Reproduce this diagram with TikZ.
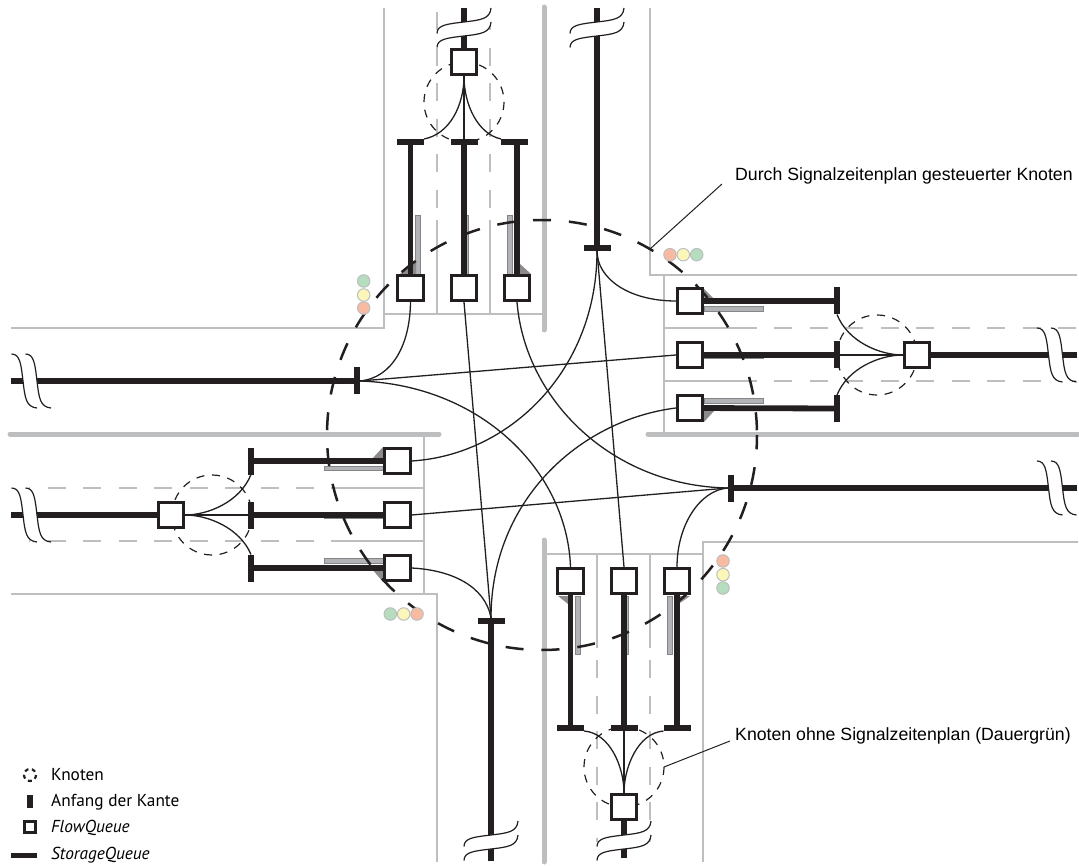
\documentclass[tikz,border=0pt]{standalone}
\usepackage{fontspec}
\setmainfont{Liberation Sans}
\newfontfamily\legendfont{PT Sans}
\usetikzlibrary{arrows.meta,positioning,calc}
\definecolor{roadgray}{HTML}{BCBEC0}
\definecolor{pocketgray}{HTML}{B1B3B6}
\definecolor{wedgegray}{HTML}{8C8A8A}
\definecolor{ink}{HTML}{231F20}
\definecolor{sigred}{HTML}{F8BBA2}
\definecolor{sigyellow}{HTML}{FCF7B8}
\definecolor{siggreen}{HTML}{B6DDBE}

\begin{document}
\begin{tikzpicture}[
  x=1pt, y=-1pt,
  road/.style={draw=roadgray, line width=2.2pt},
  laneline/.style={draw=roadgray, line width=1.7pt},
  median/.style={draw=roadgray, line width=5pt, line cap=round},
  lane/.style={draw=roadgray, line width=1.7pt, dash pattern=on 18pt off 17.5pt},
  pocket/.style={fill=pocketgray, draw=roadgray!70!black, line width=0.5pt},
  wedge/.style={fill=wedgegray},
  bignode/.style={draw=ink, line width=2.5pt, dash pattern=on 18pt off 18pt, dash phase=9pt},
  smallnode/.style={draw=ink, line width=1.2pt, dash pattern=on 8pt off 7.7pt},
  fq/.style={draw=ink, line width=2.7pt, fill=white, minimum size=25.5pt, inner sep=0pt},
  barh/.style={fill=ink, minimum width=27pt, minimum height=6pt, inner sep=0pt, outer sep=0pt},
  barv/.style={fill=ink, minimum width=6pt, minimum height=27pt, inner sep=0pt, outer sep=0pt},
  sq/.style={draw=ink, line width=5.8pt},
  link/.style={draw=ink, line width=1.3pt},
  leader/.style={draw=ink, line width=1pt},
  signal/.style={circle, draw=roadgray, line width=1pt, minimum size=12.5pt, inner sep=0pt},
  lbl/.style={anchor=west, inner sep=0pt, font=\fontsize{17.7}{20}\selectfont},
  leg/.style={anchor=west, inner sep=0pt, font=\legendfont\fontsize{17.3}{20}\selectfont},
  breakmark/.pic={
    \fill[white] (-27,5.5) .. controls (-27,-3) and (-17,-4) .. (0,-6) .. controls (17,-8) and (26,-9) .. (27,-20)
      -- (27,-6) .. controls (26,5) and (17,6) .. (0,8) .. controls (-17,10) and (-27,11) .. (-27,19.5) -- cycle;
    \draw[ink, line width=1.2pt] (-27,5.5) .. controls (-27,-3) and (-17,-4) .. (0,-6) .. controls (17,-8) and (26,-9) .. (27,-20);
    \draw[ink, line width=1.2pt] (-27,19.5) .. controls (-27,11) and (-17,10) .. (0,8) .. controls (17,6) and (26,5) .. (27,-6);
  }
]
  \useasboundingbox (0,0) rectangle (1079,866);

  \draw[road] (384,8) -- (384,328) -- (11,328);
  \draw[road] (650,8) -- (650,275) -- (1077,275);
  \draw[road] (11,594) -- (437,594) -- (437,862);
  \draw[road] (1078,542) -- (703,542) -- (703,862);
  \draw[road] (384,314) -- (543,314);
  \draw[road] (664,275) -- (664,434);
  \draw[road] (424,434) -- (424,594);
  \draw[road] (543,554) -- (703,554);
  \draw[median] (544,7) -- (544,330);
  \draw[median] (544,540) -- (544,862);
  \draw[median] (10,434) -- (439,434);
  \draw[median] (648,434) -- (1078,434);

  \draw[laneline] (437,314) -- (437,220);
  \draw[laneline] (490,314) -- (490,220);
  \draw[laneline] (664,328) -- (757,328);
  \draw[laneline] (664,381) -- (757,381);
  \draw[laneline] (424,488) -- (331,488);
  \draw[laneline] (424,541) -- (331,541);
  \draw[laneline] (597,554) -- (597,648);
  \draw[laneline] (650,554) -- (650,648);
  \draw[lane] (437,208) -- (437,8);
  \draw[lane] (490,208) -- (490,8);
  \draw[lane] (774,328) -- (1077,328);
  \draw[lane] (774,381) -- (1077,381);
  \draw[lane] (314,488) -- (29,488);
  \draw[lane] (314,541) -- (29,541);
  \draw[lane] (597,660) -- (597,842);
  \draw[lane] (650,660) -- (650,842);

  \draw[pocket] (415.5,215) rectangle (420.5,274);
  \draw[pocket] (464,215) rectangle (468,274);
  \draw[pocket] (507.5,215) rectangle (512.5,274);
  \draw[pocket] (704,306.5) rectangle (763,311);
  \draw[pocket] (704,355) rectangle (763,358.5);
  \draw[pocket] (704,398) rectangle (763,403);
  \draw[pocket] (324,466.5) rectangle (383,470.5);
  \draw[pocket] (324,515) rectangle (383,518.5);
  \draw[pocket] (324,558) rectangle (383,563);
  \draw[pocket] (575,596) rectangle (580,654);
  \draw[pocket] (624,596) rectangle (628,654);
  \draw[pocket] (667,596) rectangle (672,654);
  \fill[wedge] (400,274) -- (416,261) -- (416,274) -- cycle;
  \fill[wedge] (519,263) -- (531,274) -- (519,274) -- cycle;
  \fill[wedge] (704,289) -- (714,299) -- (704,299) -- cycle;
  \fill[wedge] (704,422) -- (714,411) -- (704,411) -- cycle;
  \fill[wedge] (372,459) -- (383,447) -- (383,459) -- cycle;
  \fill[wedge] (372,569) -- (383,582) -- (383,569) -- cycle;
  \fill[wedge] (558,596) -- (568,604) -- (568,596) -- cycle;
  \fill[wedge] (680,603) -- (690,596) -- (680,596) -- cycle;

  \draw[smallnode] (464,102) circle [radius=40];
  \draw[smallnode] (877,355) circle [radius=40];
  \draw[smallnode] (212,515) circle [radius=40];
  \draw[smallnode] (624,767) circle [radius=40];
  \draw[bignode] (542,220) arc [start angle=-90, end angle=-360, radius=215];
  \draw[bignode] (542,220) arc [start angle=-90, end angle=-1, radius=215];

  \node[signal, fill=siggreen]  (st1) at (363.7,281) {};
  \node[signal, fill=sigyellow] (st2) at (363.7,295) {};
  \node[signal, fill=sigred]    (st3) at (363.7,308) {};
  \node[signal, fill=sigred]    (sr1) at (670,254.7) {};
  \node[signal, fill=sigyellow] (sr2) at (683.3,254.7) {};
  \node[signal, fill=siggreen]  (sr3) at (696.7,254.7) {};
  \node[signal, fill=siggreen]  (sl1) at (390.3,614) {};
  \node[signal, fill=sigyellow] (sl2) at (403.7,614) {};
  \node[signal, fill=sigred]    (sl3) at (417,614) {};
  \node[signal, fill=sigred]    (su1) at (723,561) {};
  \node[signal, fill=sigyellow] (su2) at (723,574.7) {};
  \node[signal, fill=siggreen]  (su3) at (723,588) {};

  \node[fq] (ft1) at (410.5,288) {};
  \node[fq] (ft2) at (464,288) {};
  \node[fq] (ft3) at (517,288) {};
  \node[fq] (ftx) at (464,62) {};
  \node[fq] (fr1) at (690,301) {};
  \node[fq] (fr2) at (690,355) {};
  \node[fq] (fr3) at (690,408) {};
  \node[fq] (frx) at (917,355) {};
  \node[fq] (fl1) at (397.5,461) {};
  \node[fq] (fl2) at (397.5,515) {};
  \node[fq] (fl3) at (397.5,568) {};
  \node[fq] (flx) at (171,515) {};
  \node[fq] (fu1) at (570.5,581) {};
  \node[fq] (fu2) at (624,581) {};
  \node[fq] (fu3) at (677,581) {};
  \node[fq] (fux) at (624,807) {};

  \node[barh] (bt1) at (410.5,142) {};
  \node[barh] (bt2) at (464,142) {};
  \node[barh] (bt3) at (514.5,142) {};
  \node[barh] (bti) at (597,248) {};
  \node[barv] (br1) at (837,301) {};
  \node[barv] (br2) at (837,355) {};
  \node[barv] (br3) at (837,408.5) {};
  \node[barv] (bri) at (731,488) {};
  \node[barv] (bl1) at (251,461) {};
  \node[barv] (bl2) at (251,515) {};
  \node[barv] (bl3) at (251,568) {};
  \node[barv] (bli) at (357,381) {};
  \node[barh] (bu1) at (570.5,728) {};
  \node[barh] (bu2) at (624,728) {};
  \node[barh] (bu3) at (677,728) {};
  \node[barh] (bui) at (491,621) {};

  \coordinate (tx) at (464,8);
  \coordinate (ti) at (597,8);
  \coordinate (rx) at (1077,355);
  \coordinate (ri) at (1077,488);
  \coordinate (lx) at (11,515);
  \coordinate (li) at (11,381);
  \coordinate (ux) at (624,858);
  \coordinate (ui) at (491,861);

  \draw[sq] (bt1) -- (ft1);
  \draw[sq] (bt2) -- (ft2);
  \draw[sq] (ft3.north |- bt3) -- (ft3);
  \draw[sq] (tx) -- (ftx);
  \draw[sq] (ti) -- (bti);
  \draw[sq] (br1) -- (fr1);
  \draw[sq] (br2) -- (fr2);
  \draw[sq] (br3) -- (fr3);
  \draw[sq] (rx) -- (frx);
  \draw[sq] (ri) -- (bri);
  \draw[sq] (bl1) -- (fl1);
  \draw[sq] (bl2) -- (fl2);
  \draw[sq] (bl3) -- (fl3);
  \draw[sq] (lx) -- (flx);
  \draw[sq] (li) -- (bli);
  \draw[sq] (bu1) -- (fu1);
  \draw[sq] (bu2) -- (fu2);
  \draw[sq] (bu3) -- (fu3);
  \draw[sq] (ux) -- (fux);
  \draw[sq] (ui) -- (bui);

  \draw[link] (ftx.south) .. controls (464,105) and (450,134) .. (bt1.north east);
  \draw[link] (ftx.south) -- (bt2.north);
  \draw[link] (ftx.south) .. controls (464,105) and (478,134) .. (bt3.north west);
  \draw[link] (frx.west) .. controls (880,355) and (848,342) .. (br1.south);
  \draw[link] (frx.west) -- (br2.east);
  \draw[link] (frx.west) .. controls (880,355) and (848,368) .. (br3.north);
  \draw[link] (flx.east) .. controls (208,515) and (240,502) .. (bl1.south);
  \draw[link] (flx.east) -- (bl2.west);
  \draw[link] (flx.east) .. controls (208,515) and (240,528) .. (bl3.north);
  \draw[link] (fux.north) .. controls (624,767) and (610,733) .. (bu1.south east);
  \draw[link] (fux.north) -- (bu2.south);
  \draw[link] (fux.north) .. controls (624,767) and (638,733) .. (bu3.south west);

  \draw[link] (bti.south) .. controls (597,278) and (628,301) .. (fr1.west);
  \draw[link] (bti.south) -- (fu2.north);
  \draw[link] (bti.south) .. controls (597,370) and (510,455) .. (fl1.east);
  \draw[link] (bli.east) .. controls (392,378) and (410,345) .. (ft1.south);
  \draw[link] (bli.east) -- (fr2.west);
  \draw[link] (bli.east) .. controls (480,385) and (567,470) .. (fu1.north);
  \draw[link] (bri.west) .. controls (612,486) and (525,400) .. (ft3.south);
  \draw[link] (bri.west) -- (fl2.east);
  \draw[link] (bri.west) .. controls (700,490) and (677,525) .. (fu3.north);
  \draw[link] (bui.north) .. controls (491,500) and (580,420) .. (fr3.west);
  \draw[link] (bui.north) -- (ft2.south);
  \draw[link] (bui.north) .. controls (485,585) and (450,570) .. (fl3.east);

  \pic at (464,28) {breakmark};
  \pic at (597,28) {breakmark};
  \pic at (624,841) {breakmark};
  \pic at (491,841) {breakmark};
  \pic[rotate=-90] at (1056.5,355) {breakmark};
  \pic[rotate=-90] at (1056.5,488) {breakmark};
  \pic[rotate=-90] at (31,515) {breakmark};
  \pic[rotate=-90] at (31,381) {breakmark};

  \node[lbl] (lab1) at (735,176) {Durch Signalzeitenplan gesteuerter Knoten};
  \node[lbl] (lab2) at (735,736) {Knoten ohne Signalzeitenplan (Dauergrün)};
  \coordinate (lead1) at (650,249);
  \coordinate (lead2) at (664,767);
  \draw[leader] (lab1.west) ++(-13,8) -- (lead1);
  \draw[leader] (lab2.west) ++(-5,5) -- (lead2);

  \draw[draw=ink, line width=2.2pt, dash pattern=on 4pt off 3.5pt] (30,775) circle [radius=6];
  \node[barv, minimum height=13pt, minimum width=5.5pt] (kbar) at (30,801) {};
  \node[fq, minimum size=11.5pt] (kfq) at (30,827) {};
  \coordinate (ks1) at (11,855);
  \coordinate (ks2) at (37,855);
  \draw[sq, line width=5pt] (ks1) -- (ks2);
  \node[leg] (lk1) at (51,775) {Knoten};
  \node[leg] (lk2) at (51,802) {Anfang der Kante};
  \node[leg] (lk3) at (51,828) {\itshape FlowQueue};
  \node[leg] (lk4) at (51,855) {\itshape StorageQueue};
\end{tikzpicture}
\end{document}
